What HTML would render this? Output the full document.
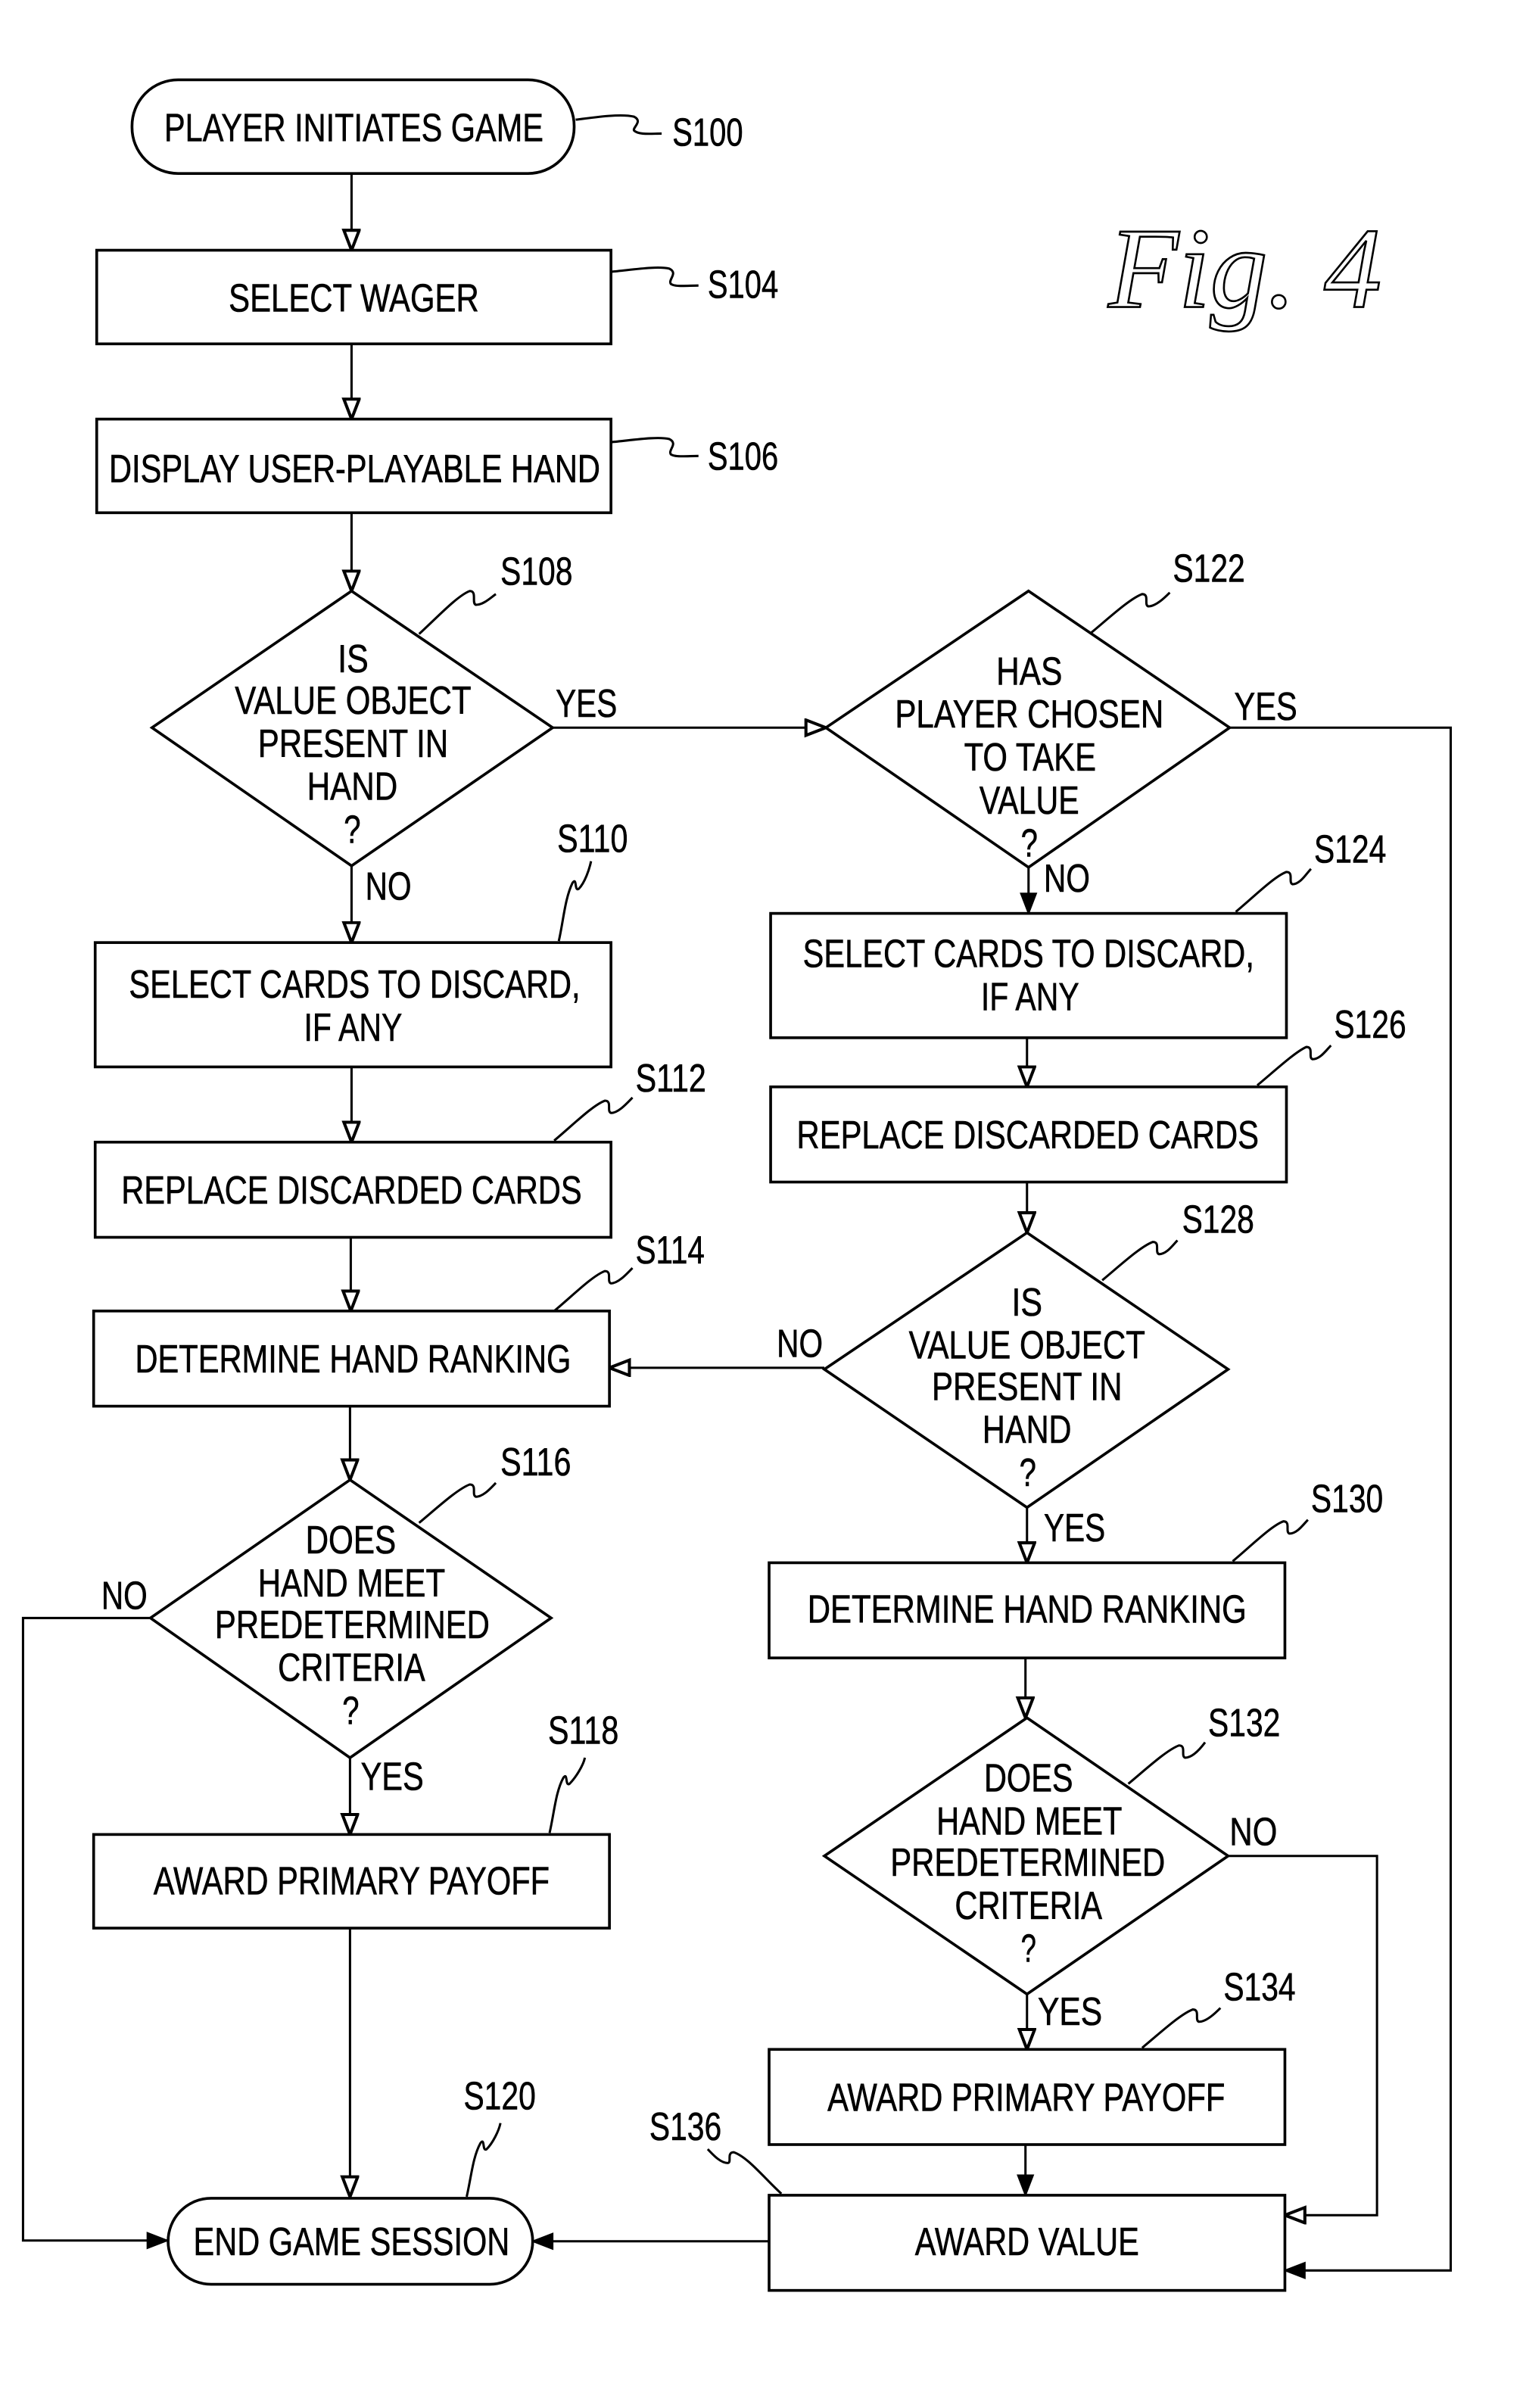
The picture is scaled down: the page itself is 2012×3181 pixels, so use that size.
<!DOCTYPE html>
<html><head><meta charset="utf-8"><title>Fig. 4</title>
<style>
html,body{margin:0;padding:0;background:#fff;width:2012px;height:3181px;overflow:hidden}
svg{display:block}
text{font-family:"Liberation Sans",sans-serif;font-size:25.5px;fill:#000;stroke:#000;stroke-width:.3px}
.s{fill:none;stroke:#000;stroke-width:1.5}
.b{fill:#fff;stroke:#000;stroke-width:1.8}
.c{fill:none;stroke:#000;stroke-width:1.5}
text.f{font-family:"Liberation Serif",serif;font-style:italic;font-size:75px;fill:#fff;stroke:#000;stroke-width:1.3px}
</style></head><body>
<svg xmlns="http://www.w3.org/2000/svg" width="2012" height="3181" viewBox="0 0 992.1 1568.6" preserveAspectRatio="none">
<defs>
<marker id="o" markerUnits="userSpaceOnUse" markerWidth="16" markerHeight="14" refX="14" refY="6" orient="auto"><path d="M1 1L14 6L1 11Z" fill="#fff" stroke="#000" stroke-width="2"/></marker>
<marker id="k" markerUnits="userSpaceOnUse" markerWidth="16" markerHeight="14" refX="14" refY="6" orient="auto"><path d="M1 1L14 6L1 11Z" fill="#000" stroke="#000" stroke-width="1"/></marker>
</defs>
<!-- connectors -->
<g class="c">
<path class="c" d="M229 113V163" marker-end="url(#o)"/>
<path class="c" d="M229 224V273" marker-end="url(#o)"/>
<path class="c" d="M229 334V385" marker-end="url(#o)"/>
<path class="c" d="M360 474H538" marker-end="url(#o)"/>
<path class="c" d="M229 564V614" marker-end="url(#o)"/>
<path class="c" d="M229 695V744" marker-end="url(#o)"/>
<path class="c" d="M228.500 806V854" marker-end="url(#o)"/>
<path class="c" d="M228 916V964" marker-end="url(#o)"/>
<path class="c" d="M228 1145V1195" marker-end="url(#o)"/>
<path class="c" d="M228 1256V1431" marker-end="url(#o)"/>
<path class="c" d="M670 565V595" marker-end="url(#k)"/>
<path class="c" d="M669 676V708" marker-end="url(#o)"/>
<path class="c" d="M669 770V803" marker-end="url(#o)"/>
<path class="c" d="M537 891H397" marker-end="url(#o)"/>
<path class="c" d="M669 982V1018" marker-end="url(#o)"/>
<path class="c" d="M668 1080V1119" marker-end="url(#o)"/>
<path class="c" d="M669 1299V1335" marker-end="url(#o)"/>
<path class="c" d="M668 1397V1430" marker-end="url(#k)"/>
<path class="c" d="M801 474H945V1479H837" marker-end="url(#k)"/>
<path class="c" d="M800 1209H897V1443H837" marker-end="url(#o)"/>
<path class="c" d="M501 1460H347" marker-end="url(#k)"/>
<path class="c" d="M98 1054H15V1459.500H109" marker-end="url(#k)"/>
</g>
<!-- shapes -->
<rect class="b" x="86" y="52" width="288" height="61" rx="30" ry="30"/>
<rect class="b" x="63" y="163" width="335" height="61"/>
<rect class="b" x="63" y="273" width="335" height="61"/>
<polygon class="b" points="229,385 360,474 229,564 99,474"/>
<rect class="b" x="62" y="614" width="336" height="81"/>
<rect class="b" x="62" y="744" width="336" height="62"/>
<rect class="b" x="61" y="854" width="336" height="62"/>
<polygon class="b" points="228,964 359,1054 228,1145 98,1054"/>
<rect class="b" x="61" y="1195" width="336" height="61"/>
<rect class="b" x="109.500" y="1432" width="237.500" height="56" rx="28" ry="28"/>
<polygon class="b" points="670,385 801,474 670,565 538,474"/>
<rect class="b" x="502" y="595" width="336" height="81"/>
<rect class="b" x="502" y="708" width="336" height="62"/>
<polygon class="b" points="669,803 800,892 669,982 537,892"/>
<rect class="b" x="501" y="1018" width="336" height="62"/>
<polygon class="b" points="669,1119 800,1209 669,1299 537,1209"/>
<rect class="b" x="501" y="1335" width="336" height="62"/>
<rect class="b" x="501" y="1430" width="336" height="62"/>
<!-- squiggles -->
<path class="s" d="M375 78C390 76 405 74 413 76C419 79 412 83 413 85C416 88 424 87 431 87"/>
<path class="s" d="M398 177C410 176 428 173 436 175C442 178 435 182 437 185C440 187 448 186 455 186"/>
<path class="s" d="M398 288C410 287 428 284 436 286C442 289 435 293 437 296C440 298 448 297 455 297"/>
<path class="s" d="M273 413C285 402 298 388 306 385C311 385 307 393 310 394C315 394 320 389 323 387"/>
<path class="s" d="M364 613C367 600 368 585 373 575C376 571 374 581 377 579C381 575 384 566 385 561"/>
<path class="s" d="M361 743C373 733 386 720 394 717C399 717 395 724 398 725C403 725 409 718 412 715"/>
<path class="s" d="M361 854C373 844 386 831 394 828C399 828 395 835 398 836C403 836 409 829 412 826"/>
<path class="s" d="M273 992C285 982 298 970 306 967C311 967 307 974 310 975C315 975 320 969 323 966"/>
<path class="s" d="M358 1194C361 1181 362 1167 367 1158C370 1154 368 1164 371 1162C375 1158 380 1150 381 1145"/>
<path class="s" d="M304 1431C307 1418 308 1405 313 1396C316 1392 314 1402 317 1400C321 1396 325 1388 326 1383"/>
<path class="s" d="M711 412C723 402 736 390 744 387C749 387 745 394 748 395C753 395 759 389 762 386"/>
<path class="s" d="M805 594C817 584 830 571 838 568C843 568 839 575 842 576C847 576 851 569 854 566"/>
<path class="s" d="M819 707C831 697 844 685 851 682C856 682 852 689 855 690C860 690 864 684 867 681"/>
<path class="s" d="M718 834C730 824 743 812 751 809C756 809 752 816 755 817C760 817 764 811 767 808"/>
<path class="s" d="M803 1017C815 1007 828 994 836 991C841 991 837 998 840 999C845 999 849 993 852 990"/>
<path class="s" d="M735 1162C747 1152 760 1140 768 1137C773 1137 769 1144 772 1145C777 1145 782 1139 785 1135"/>
<path class="s" d="M744 1334C756 1324 769 1312 777 1309C782 1309 778 1316 781 1317C786 1317 792 1311 795 1308"/>
<path class="s" d="M509 1429C498 1419 487 1405 478 1402C473 1402 477 1409 474 1409C469 1409 464 1403 461 1400"/>
<!-- box text -->
<text x="107" y="92" textLength="247" lengthAdjust="spacingAndGlyphs">PLAYER INITIATES GAME</text>
<text x="149" y="203" textLength="163" lengthAdjust="spacingAndGlyphs">SELECT WAGER</text>
<text x="71" y="314" textLength="320" lengthAdjust="spacingAndGlyphs">DISPLAY USER-PLAYABLE HAND</text>
<text x="220" y="438" textLength="20" lengthAdjust="spacingAndGlyphs">IS</text>
<text x="153" y="465" textLength="154" lengthAdjust="spacingAndGlyphs">VALUE OBJECT</text>
<text x="168" y="493" textLength="124" lengthAdjust="spacingAndGlyphs">PRESENT IN</text>
<text x="200" y="521" textLength="59" lengthAdjust="spacingAndGlyphs">HAND</text>
<text x="224" y="549" textLength="11" lengthAdjust="spacingAndGlyphs">?</text>
<text x="84" y="650" textLength="294" lengthAdjust="spacingAndGlyphs">SELECT CARDS TO DISCARD,</text>
<text x="198" y="678" textLength="64" lengthAdjust="spacingAndGlyphs">IF ANY</text>
<text x="79" y="784" textLength="300" lengthAdjust="spacingAndGlyphs">REPLACE DISCARDED CARDS</text>
<text x="88" y="894" textLength="284" lengthAdjust="spacingAndGlyphs">DETERMINE HAND RANKING</text>
<text x="199" y="1012" textLength="59" lengthAdjust="spacingAndGlyphs">DOES</text>
<text x="168" y="1040" textLength="122" lengthAdjust="spacingAndGlyphs">HAND MEET</text>
<text x="140" y="1067" textLength="179" lengthAdjust="spacingAndGlyphs">PREDETERMINED</text>
<text x="181" y="1095" textLength="96" lengthAdjust="spacingAndGlyphs">CRITERIA</text>
<text x="223" y="1123" textLength="11" lengthAdjust="spacingAndGlyphs">?</text>
<text x="100" y="1234" textLength="258" lengthAdjust="spacingAndGlyphs">AWARD PRIMARY PAYOFF</text>
<text x="126" y="1469" textLength="206" lengthAdjust="spacingAndGlyphs">END GAME SESSION</text>
<text x="649" y="446" textLength="43" lengthAdjust="spacingAndGlyphs">HAS</text>
<text x="583" y="474" textLength="175" lengthAdjust="spacingAndGlyphs">PLAYER CHOSEN</text>
<text x="628" y="502" textLength="86" lengthAdjust="spacingAndGlyphs">TO TAKE</text>
<text x="638" y="530" textLength="65" lengthAdjust="spacingAndGlyphs">VALUE</text>
<text x="665" y="558" textLength="11" lengthAdjust="spacingAndGlyphs">?</text>
<text x="523" y="630" textLength="294" lengthAdjust="spacingAndGlyphs">SELECT CARDS TO DISCARD,</text>
<text x="639" y="658" textLength="64" lengthAdjust="spacingAndGlyphs">IF ANY</text>
<text x="519" y="748" textLength="301" lengthAdjust="spacingAndGlyphs">REPLACE DISCARDED CARDS</text>
<text x="659" y="857" textLength="20" lengthAdjust="spacingAndGlyphs">IS</text>
<text x="592" y="885" textLength="154" lengthAdjust="spacingAndGlyphs">VALUE OBJECT</text>
<text x="607" y="912" textLength="124" lengthAdjust="spacingAndGlyphs">PRESENT IN</text>
<text x="640" y="940" textLength="58" lengthAdjust="spacingAndGlyphs">HAND</text>
<text x="664" y="968" textLength="11" lengthAdjust="spacingAndGlyphs">?</text>
<text x="526" y="1057" textLength="286" lengthAdjust="spacingAndGlyphs">DETERMINE HAND RANKING</text>
<text x="641" y="1167" textLength="58" lengthAdjust="spacingAndGlyphs">DOES</text>
<text x="610" y="1195" textLength="121" lengthAdjust="spacingAndGlyphs">HAND MEET</text>
<text x="580" y="1222" textLength="179" lengthAdjust="spacingAndGlyphs">PREDETERMINED</text>
<text x="622" y="1250" textLength="96" lengthAdjust="spacingAndGlyphs">CRITERIA</text>
<text x="665" y="1278" textLength="10" lengthAdjust="spacingAndGlyphs">?</text>
<text x="539" y="1375" textLength="259" lengthAdjust="spacingAndGlyphs">AWARD PRIMARY PAYOFF</text>
<text x="596" y="1469" textLength="146" lengthAdjust="spacingAndGlyphs">AWARD VALUE</text>
<!-- connector labels -->
<text x="362" y="467" textLength="40" lengthAdjust="spacingAndGlyphs">YES</text>
<text x="238" y="586" textLength="30" lengthAdjust="spacingAndGlyphs">NO</text>
<text x="804" y="469" textLength="41" lengthAdjust="spacingAndGlyphs">YES</text>
<text x="680" y="581" textLength="30" lengthAdjust="spacingAndGlyphs">NO</text>
<text x="506" y="884" textLength="30" lengthAdjust="spacingAndGlyphs">NO</text>
<text x="680" y="1004" textLength="40" lengthAdjust="spacingAndGlyphs">YES</text>
<text x="66" y="1048" textLength="30" lengthAdjust="spacingAndGlyphs">NO</text>
<text x="235" y="1166" textLength="41" lengthAdjust="spacingAndGlyphs">YES</text>
<text x="801" y="1202" textLength="31" lengthAdjust="spacingAndGlyphs">NO</text>
<text x="676" y="1319" textLength="42" lengthAdjust="spacingAndGlyphs">YES</text>
<!-- step labels -->
<text x="438" y="95" textLength="46" lengthAdjust="spacingAndGlyphs">S100</text>
<text x="461" y="194" textLength="46" lengthAdjust="spacingAndGlyphs">S104</text>
<text x="461" y="306" textLength="46" lengthAdjust="spacingAndGlyphs">S106</text>
<text x="326" y="381" textLength="47" lengthAdjust="spacingAndGlyphs">S108</text>
<text x="363" y="555" textLength="46" lengthAdjust="spacingAndGlyphs">S110</text>
<text x="414" y="711" textLength="46" lengthAdjust="spacingAndGlyphs">S112</text>
<text x="414" y="823" textLength="45" lengthAdjust="spacingAndGlyphs">S114</text>
<text x="326" y="961" textLength="46" lengthAdjust="spacingAndGlyphs">S116</text>
<text x="357" y="1136" textLength="46" lengthAdjust="spacingAndGlyphs">S118</text>
<text x="302" y="1374" textLength="47" lengthAdjust="spacingAndGlyphs">S120</text>
<text x="764" y="379" textLength="47" lengthAdjust="spacingAndGlyphs">S122</text>
<text x="856" y="562" textLength="47" lengthAdjust="spacingAndGlyphs">S124</text>
<text x="869" y="676" textLength="47" lengthAdjust="spacingAndGlyphs">S126</text>
<text x="770" y="803" textLength="47" lengthAdjust="spacingAndGlyphs">S128</text>
<text x="854" y="985" textLength="47" lengthAdjust="spacingAndGlyphs">S130</text>
<text x="787" y="1131" textLength="47" lengthAdjust="spacingAndGlyphs">S132</text>
<text x="797" y="1303" textLength="47" lengthAdjust="spacingAndGlyphs">S134</text>
<text x="423" y="1394" textLength="47" lengthAdjust="spacingAndGlyphs">S136</text>
<text class="f" x="722" y="200" textLength="178" lengthAdjust="spacing">Fig. 4</text>
</svg>
</body></html>
